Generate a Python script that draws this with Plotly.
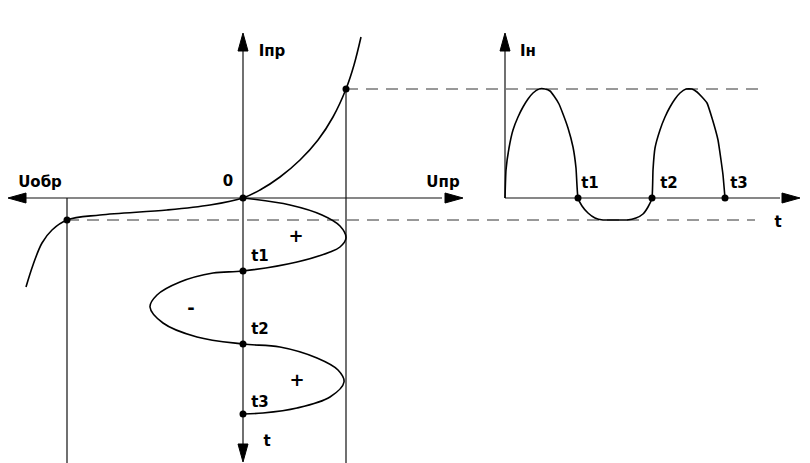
import plotly.graph_objects as go

W, H = 810, 463
OFF = 8  # page body margin of the HTML document

# ---- geometry of the diagram (pixel space, y grows downward) ----
# Diode I-V characteristic
iv_x = [26, 33, 42, 52, 67, 100, 167, 210, 243, 260, 280, 300, 318, 333, 346, 354, 361]
iv_y = [287, 265, 243, 230, 220, 215, 210, 205, 198, 190, 177, 160, 140, 117, 89, 65, 37]

# Input voltage versus time (time runs downward)
u_x = [243, 290, 322, 340, 346, 340, 330, 297, 243, 213, 180, 157, 150, 163, 197, 243, 280, 317, 338, 344, 330, 297, 263, 243]
u_y = [198, 205, 215, 226, 238, 247, 252, 262, 271, 273, 282, 295, 307, 323, 337, 344, 347, 358, 370, 382, 397, 408, 413, 414]

# Load current versus time (right chart)
i_x = [505, 506, 509, 513, 518, 523, 528, 533, 539, 545, 550, 554, 559, 563, 568, 573, 576, 578, 582, 588, 595, 603, 615, 627, 636, 643, 648, 652, 653, 655, 660, 665, 670, 675, 680, 686, 692, 697, 702, 707, 712, 718, 721, 723, 725]
i_y = [198, 170, 148, 130, 117, 107, 99, 93, 89, 89, 91, 96, 104, 114, 128, 147, 168, 198, 206, 213, 218, 220, 220, 220, 218, 214, 207, 198, 170, 148, 130, 117, 107, 99, 93, 89, 89, 92, 97, 103, 118, 140, 160, 175, 198]

# Marked points
pt_x = [243, 67, 346, 243, 243, 243, 578, 652, 725]
pt_y = [198, 220, 89, 271, 344, 414, 198, 198, 198]

# Labels
lbl_text = ["Iпр", "0", "Uпр", "Uобр", "t1", "t2", "t3", "t", "Iн", "t1", "t2", "t3", "t"]
lbl_x = [272, 228, 443, 40, 260, 260, 260, 267, 528, 590, 669, 739, 778]
lbl_y = [52, 182, 183, 183, 257, 330, 403, 442, 52, 184, 184, 184, 223]
sign_text = ["+", "-", "+"]
sign_x = [296, 191, 297]
sign_y = [237, 309, 381]

# Solid lines (x0, y0, x1, y1)
solid = [
    (243, 50, 243, 446),   # left vertical axis
    (24, 198, 442, 198),   # left horizontal axis
    (67, 198, 67, 463),    # vertical at reverse point
    (346, 89, 346, 463),   # vertical at forward point
    (505, 50, 505, 198),   # right vertical axis
    (505, 198, 780, 198),  # right horizontal axis
]
# Dashed lines
dashed = [
    (346, 89, 765, 89),
    (67, 220, 755, 220),
]
# Arrowheads: tip x, tip y, direction (dx, dy)
arrows = [
    (243, 33, 0, -1),
    (243, 462, 0, 1),
    (8, 198, -1, 0),
    (463, 198, 1, 0),
    (505, 33, 0, -1),
    (800, 198, 1, 0),
]

fig = go.Figure()

for x0, y0, x1, y1 in solid:
    fig.add_trace(go.Scatter(x=[x0, x1], y=[y0, y1], mode="lines",
                             line=dict(color="#111", width=1.2), hoverinfo="skip"))
for x0, y0, x1, y1 in dashed:
    fig.add_trace(go.Scatter(x=[x0, x1], y=[y0, y1], mode="lines",
                             line=dict(color="#333", width=1, dash="12px,8px"), hoverinfo="skip"))

L, HW = 18, 5
for tx, ty, dx, dy in arrows:
    bx, by = tx - dx * L, ty - dy * L
    px, py = -dy * HW, dx * HW
    fig.add_trace(go.Scatter(x=[tx, bx + px, bx - px, tx], y=[ty, by + py, by - py, ty],
                             mode="lines", fill="toself", fillcolor="#000",
                             line=dict(color="#000", width=1), hoverinfo="skip"))

for xs, ys, sm in [(iv_x, iv_y, 1.0), (u_x, u_y, 1.0), (i_x, i_y, 0.4)]:
    fig.add_trace(go.Scatter(x=xs, y=ys, mode="lines",
                             line=dict(color="#000", width=1.6, shape="spline", smoothing=sm),
                             hoverinfo="skip"))

fig.add_trace(go.Scatter(x=pt_x, y=pt_y, mode="markers",
                         marker=dict(color="#000", size=7), hoverinfo="skip"))

fig.add_trace(go.Scatter(x=lbl_x, y=lbl_y, mode="text", text=lbl_text,
                         textfont=dict(family="DejaVu Sans", size=15, color="#000"),
                         texttemplate="<b>%{text}</b>", hoverinfo="skip"))
fig.add_trace(go.Scatter(x=sign_x, y=sign_y, mode="text", text=sign_text,
                         textfont=dict(family="DejaVu Sans", size=18, color="#000"),
                         texttemplate="<b>%{text}</b>", hoverinfo="skip"))

fig.update_layout(
    width=W - OFF, height=H - OFF, margin=dict(l=0, r=0, t=0, b=0),
    paper_bgcolor="white", plot_bgcolor="white", showlegend=False,
    xaxis=dict(range=[OFF, W], visible=False, fixedrange=True),
    yaxis=dict(range=[H, OFF], visible=False, fixedrange=True),
)

fig.write_html("out.html")
